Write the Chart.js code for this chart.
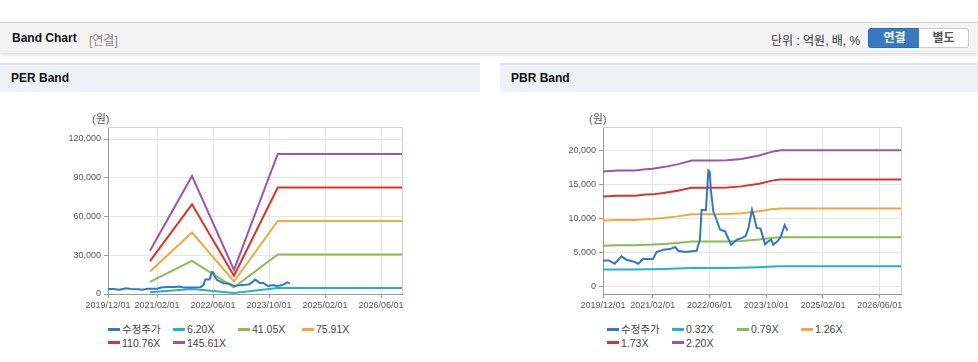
<!DOCTYPE html>
<html lang="ko">
<head>
<meta charset="utf-8">
<title>Band Chart</title>
<script src="https://cdn.jsdelivr.net/npm/chart.js@4.4.1/dist/chart.umd.min.js"></script>
<style>
body { margin:0; width:978px; height:362px; background:#fff; position:relative; overflow:hidden;
  font-family:"Liberation Sans","Noto Sans CJK KR",sans-serif; }
.topbar { position:absolute; left:0; top:22px; width:978px; height:30px; background:#f4f4f4;
  border-top:1px solid #d2d2d2; box-shadow:0 2px 3px rgba(0,0,0,0.13); }
.topbar .title { position:absolute; left:12px; top:8px; font-size:12px; font-weight:bold; color:#111; }
.topbar .sub { position:absolute; left:89px; top:8px; font-size:12px; color:#888; }
.topbar .unit { position:absolute; left:771px; top:8px; font-size:12px; color:#333; }
.btn { position:absolute; top:5px; height:18px; line-height:18px; text-align:center; font-size:12px;
  font-weight:bold; border-radius:3px; }
.btn.on { left:868px; width:51px; background:#3879bf; color:#fff; border:1px solid #2f6aa8;
  border-radius:3px 0 0 3px; }
.btn.off { left:919px; width:49px; background:#fff; color:#555; border:1px solid #ccc;
  border-left:none; border-radius:0 3px 3px 0; }
.phead { position:absolute; top:63px; height:27px; background:#eef2f7; border-top:2px solid #dfe4ea; }
.phead span { position:absolute; left:11px; top:6px; font-size:12px; font-weight:bold; color:#111; }
.box { position:absolute; top:92px; height:226px; }
.unitlbl { position:absolute; top:110px; font-size:11px; color:#555; }
.legend { position:absolute; top:323px; height:30px; font-size:10.5px; color:#444; }
.lg-item { position:absolute; white-space:nowrap; line-height:13px; }
.lg-item i { display:inline-block; width:12px; height:3px; margin-right:2px; vertical-align:middle;
  position:relative; top:-1px; }
</style>
</head>
<body>
<div class="topbar">
  <span class="title">Band Chart</span><span class="sub">[연결]</span>
  <span class="unit">단위 : 억원, 배, %</span>
  <span class="btn on">연결</span><span class="btn off">별도</span>
</div>

<div class="phead" style="left:0;width:480px"><span>PER Band</span></div>
<div class="phead" style="left:500px;width:478px"><span>PBR Band</span></div>

<div class="unitlbl" style="left:92px">(원)</div>
<div class="unitlbl" style="left:589px">(원)</div>

<div class="box" style="left:0;width:480px"><canvas id="perChart"></canvas></div>
<div class="box" style="left:500px;width:478px"><canvas id="pbrChart"></canvas></div>

<div class="legend" id="perLegend" style="left:108px;width:300px"></div>
<div class="legend" id="pbrLegend" style="left:607px;width:300px"></div>

<script>
// x axis: months since 2019/12/01
const tickMonths = [0, 14, 30, 46, 62, 78];
const tickLabels = ['2019/12/01', '2021/02/01', '2022/06/01', '2023/10/01', '2025/02/01', '2026/06/01'];

// 수정주가 (adjusted price), shared by both charts
const priceMonths = [0, 1.6, 3.3, 5.2, 6.6, 8.5, 9.9, 11.3, 14.1, 15.1, 17, 18.9, 20.3, 21.2, 23.1,
  26.4, 27.3, 27.8, 29, 29.7, 30.1, 30.4, 31.1, 32, 33, 34.4, 36.1, 37.7, 39.1, 40.2, 41, 42,
  42.6, 43.3, 44.4, 45.7, 46.6, 47.4, 48, 49.2, 50.1, 51.2, 52];
const priceValues = [3850, 3850, 3360, 4430, 3950, 3700, 3360, 4040, 4040, 5070, 5410, 5500, 5800, 5260, 5070,
  5260, 6870, 11260, 11200, 17000, 16800, 14200, 11000, 9800, 8330, 8100, 6140, 6870, 7100, 7400, 8580, 11260,
  10200, 8600, 8500, 6200, 6630, 6880, 6150, 6630, 7270, 9020, 8200];

// PER band
const perLabels = ['6.20X', '41.05X', '75.91X', '110.76X', '145.61X'];
const perMonths = [12, 24, 36, 48.5, 84];
const per620 = [1420, 3890, 790, 4620, 4620];
const per4105 = [9400, 25700, 5240, 30560, 30560];
const per7591 = [17400, 47600, 9700, 56500, 56500];
const per11076 = [25400, 69400, 14100, 82500, 82500];
const per14561 = [33400, 91300, 18600, 108400, 108400];
const perTicks = [0, 30000, 60000, 90000, 120000];

// PBR band
const pbrLabels = ['0.32X', '0.79X', '1.26X', '1.73X', '2.20X'];
const pbrMonths = [0, 4, 9, 12, 14, 17, 21, 25, 31, 35, 39, 44, 48, 50, 84];
const pbr032 = [2500, 2520, 2520, 2550, 2560, 2600, 2650, 2720, 2720, 2740, 2780, 2860, 2960, 3000, 3000];
const pbr079 = [6000, 6060, 6060, 6140, 6160, 6250, 6400, 6600, 6600, 6620, 6700, 6900, 7150, 7250, 7250];
const pbr126 = [9680, 9770, 9770, 9880, 9910, 10050, 10290, 10600, 10600, 10630, 10750, 11050, 11380, 11460, 11460];
const pbr173 = [13200, 13320, 13320, 13480, 13510, 13700, 14040, 14480, 14480, 14520, 14680, 15080, 15560, 15700, 15700];
const pbr220 = [16850, 17000, 17000, 17200, 17250, 17500, 17900, 18450, 18450, 18500, 18700, 19200, 19800, 19950, 19950];
const pbrTicks = [0, 5000, 10000, 15000, 20000];

const colors = ['#3377c9', '#22b3c8', '#8dba52', '#f2a93b', '#d9342b', '#9b56a8'];

const toXY = (xs, ys) => xs.map((x, i) => ({x: x, y: ys[i]}));

function makeSet(label, data, color) {
    return {
        label: label,
        data: data,
        borderColor: color,
        backgroundColor: color,
        borderWidth: 2,
        pointRadius: 0,
        tension: 0,
        fill: false
    };
}

// light frame on top / right of the plot
const frame = {
    id: 'frame',
    beforeDatasetsDraw(chart) {
        const {ctx, chartArea: a} = chart;
        ctx.save();
        ctx.strokeStyle = '#cfcfcf';
        ctx.lineWidth = 1;
        ctx.beginPath();
        ctx.moveTo(a.left, Math.round(a.top) + 0.5);
        ctx.lineTo(Math.round(a.right) + 0.5, Math.round(a.top) + 0.5);
        ctx.lineTo(Math.round(a.right) + 0.5, a.bottom);
        ctx.stroke();
        ctx.restore();
    }
};

function makeChart(id, datasets, yMin, yMax, yTicks, yWidth, padRight) {
    return new Chart(document.getElementById(id), {
        type: 'line',
        data: { datasets: datasets },
        plugins: [frame],
        options: {
            responsive: true,
            maintainAspectRatio: false,
            animation: false,
            layout: { padding: { top: 35, right: padRight, left: 0, bottom: 0 } },
            plugins: { legend: { display: false }, tooltip: { enabled: false } },
            scales: {
                x: {
                    type: 'linear',
                    min: 0,
                    max: 84,
                    afterBuildTicks: s => { s.ticks = tickMonths.map(v => ({value: v})); },
                    afterFit: s => { s.height = 24; },
                    grid: { color: '#e6e6e6', tickColor: '#999', tickLength: 4 },
                    border: { color: '#999' },
                    ticks: {
                        color: '#555',
                        font: { size: 9, family: 'Liberation Sans' },
                        padding: 2,
                        maxRotation: 0,
                        autoSkip: false,
                        callback: (v, i) => tickLabels[i]
                    }
                },
                y: {
                    min: yMin,
                    max: yMax,
                    afterBuildTicks: s => { s.ticks = yTicks.map(v => ({value: v})); },
                    afterFit: s => { s.width = yWidth; },
                    grid: { color: '#e6e6e6', tickColor: '#999', tickLength: 4 },
                    border: { color: '#999' },
                    ticks: {
                        color: '#555',
                        font: { size: 9, family: 'Liberation Sans' },
                        padding: 3,
                        callback: v => v.toLocaleString('en-US')
                    }
                }
            }
        }
    });
}

const perChart = makeChart('perChart', [
    makeSet('수정주가', toXY(priceMonths, priceValues), colors[0]),
    makeSet(perLabels[0], toXY(perMonths, per620), colors[1]),
    makeSet(perLabels[1], toXY(perMonths, per4105), colors[2]),
    makeSet(perLabels[2], toXY(perMonths, per7591), colors[3]),
    makeSet(perLabels[3], toXY(perMonths, per11076), colors[4]),
    makeSet(perLabels[4], toXY(perMonths, per14561), colors[5])
], 0, 129300, perTicks, 108, 78);

const pbrChart = makeChart('pbrChart', [
    makeSet('수정주가', toXY(priceMonths, priceValues), colors[0]),
    makeSet(pbrLabels[0], toXY(pbrMonths, pbr032), colors[1]),
    makeSet(pbrLabels[1], toXY(pbrMonths, pbr079), colors[2]),
    makeSet(pbrLabels[2], toXY(pbrMonths, pbr126), colors[3]),
    makeSet(pbrLabels[3], toXY(pbrMonths, pbr173), colors[4]),
    makeSet(pbrLabels[4], toXY(pbrMonths, pbr220), colors[5])
], -1070, 23370, pbrTicks, 103, 77);

// html legend, 4 items per row
function buildLegend(el, chart) {
    chart.data.datasets.forEach((ds, i) => {
        const item = document.createElement('span');
        item.className = 'lg-item';
        item.style.left = [0, 65, 130, 194][i % 4] + 'px';
        item.style.top = Math.floor(i / 4) * 13.5 + 'px';
        item.innerHTML = '<i style="background:' + ds.borderColor + '"></i>' + ds.label;
        el.appendChild(item);
    });
}
buildLegend(document.getElementById('perLegend'), perChart);
buildLegend(document.getElementById('pbrLegend'), pbrChart);
</script>
</body>
</html>
